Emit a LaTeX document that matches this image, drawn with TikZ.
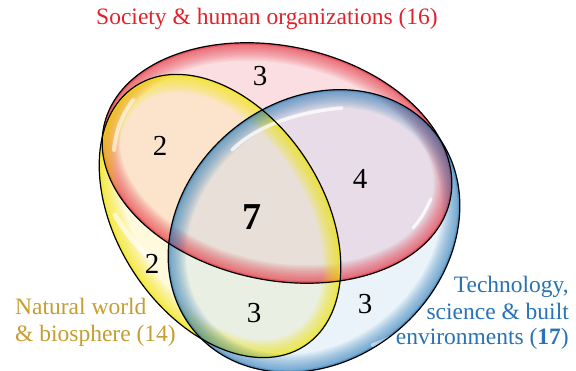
\documentclass[tikz,border=0pt]{standalone}
\usepackage{fontspec}
\setmainfont{Liberation Serif}
\newfontfamily\vennserif{Liberation Serif}
\definecolor{titlered}{RGB}{226,34,42}
\definecolor{techblue}{RGB}{40,115,180}
\definecolor{natgold}{RGB}{196,158,48}
\definecolor{redfill}{RGB}{251,222,226}
\definecolor{yelfill}{RGB}{255,240,170}
\definecolor{bluefill}{RGB}{190,218,242}
\definecolor{redrim}{RGB}{228,30,45}
\definecolor{yelrim}{RGB}{245,232,0}
\definecolor{bluerim}{RGB}{30,115,180}
\newcommand\pRed{(277,163) ellipse [x radius=177pt, y radius=117pt]}
\newcommand\pYel{(220,216) ellipse [x radius=155pt, y radius=103pt]}
\newcommand\pBlu{(314,231) ellipse [x radius=156pt, y radius=130pt]}
\begin{document}
\begin{tikzpicture}[x=1pt,y=-1pt,
  redE/.style={rotate around={-12:(277,163)}},
  yelE/.style={rotate around={-57:(220,216)}},
  bluE/.style={rotate around={40:(314,231)}},
  outline/.style={draw=black, line width=1.2pt},
  gloss/.style={draw=white, line cap=round},
  numlbl/.style={font=\vennserif\fontsize{29}{30}\selectfont, text=black, inner sep=0pt},
  biglbl/.style={font=\vennserif\fontsize{38}{40}\selectfont\bfseries, text=black, inner sep=0pt},
  setlbl/.style={font=\vennserif\fontsize{23.5}{26}\selectfont, inner sep=0pt}]
\useasboundingbox (0,0) rectangle (576,371);
\fill[white] (0,0) rectangle (576,371);
% base fills
\fill[redE, redfill] \pRed;
\fill[yelE, yelfill, fill opacity=0.38] \pYel;
\fill[bluE, bluefill, fill opacity=0.32] \pBlu;
% rims (inner glow)
\begin{scope}
  \clip[redE] \pRed;
  \foreach \w in {36,33,...,3}{
    \draw[redE, redrim, line width=\w pt, opacity=0.065] \pRed;}
  \draw[redE, redrim, line width=4pt, opacity=0.3] \pRed;
\end{scope}
\begin{scope}
  \clip[yelE] \pYel;
  \foreach \w in {36,33,...,3}{
    \draw[yelE, yelrim, line width=\w pt, opacity=0.08] \pYel;}
  \draw[yelE, yelrim, line width=4pt, opacity=0.35] \pYel;
\end{scope}
\begin{scope}
  \clip[bluE] \pBlu;
  \foreach \w in {36,33,...,3}{
    \draw[bluE, bluerim, line width=\w pt, opacity=0.065] \pBlu;}
  \draw[bluE, bluerim, line width=4pt, opacity=0.3] \pBlu;
\end{scope}
% glossy highlights
\draw[gloss, opacity=0.75, line width=3.5pt] (232,150) .. controls (255,127) and (295,112) .. (342,108);
\draw[gloss, opacity=0.8, line width=3pt] (413,228) .. controls (422,217) .. (431,199);
\draw[gloss, opacity=0.6, line width=4pt] (114,150) .. controls (116,130) and (122,115) .. (133,100);
\draw[gloss, opacity=0.6, line width=5pt] (115,215) .. controls (125,232) and (137,247) .. (150,258);
\draw[gloss, opacity=0.5, line width=4pt] (373,345) .. controls (395,338) and (412,325) .. (425,310);
% outlines
\draw[redE, outline] \pRed;
\draw[yelE, outline] \pYel;
\draw[bluE, outline] \pBlu;
% region counts
\node[numlbl] (nS) at (260,76) {3};
\node[numlbl] (nSN) at (160,146) {2};
\node[numlbl] (nST) at (360,179) {4};
\node[biglbl] (nAll) at (252,217) {7};
\node[numlbl] (nN) at (152,264) {2};
\node[numlbl] (nNT) at (254,313) {3};
\node[numlbl] (nT) at (365,304) {3};
% set captions
\node[setlbl, text=titlered, anchor=base] (tS) at (267,25) {Society \& human organizations (16)};
\node[setlbl, text=natgold, anchor=base west] (tN1) at (15,315) {Natural world};
\node[setlbl, text=natgold, anchor=base west] (tN2) at (15,342) {\& biosphere (14)};
\node[setlbl, text=techblue, anchor=base east] (tT1) at (569,293) {Technology,};
\node[setlbl, text=techblue, anchor=base east] (tT2) at (569,320) {science \& built};
\node[setlbl, text=techblue, anchor=base east] (tT3) at (569,345) {environments (\textbf{17})};
\end{tikzpicture}
\end{document}
